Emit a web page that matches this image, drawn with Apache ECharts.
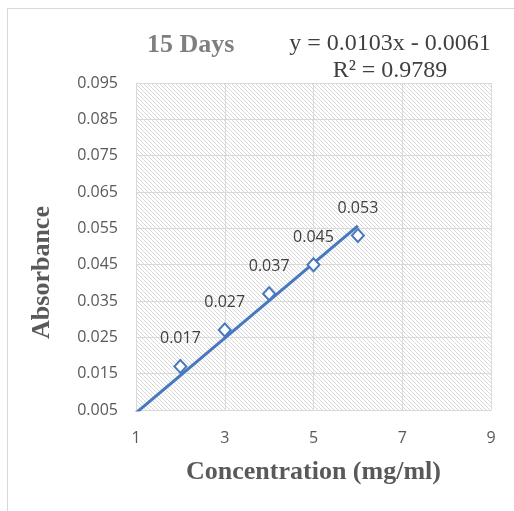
<!DOCTYPE html>
<html>
<head>
<meta charset="utf-8">
<style>
  html, body { margin: 0; padding: 0; background: #ffffff; }
  #chart { width: 514px; height: 511px; }
</style>
<script src="https://cdn.jsdelivr.net/npm/echarts@6/dist/echarts.min.js"></script>
</head>
<body>
<div id="chart"></div>
<script>
// ---- data ----
const concentration = [2, 3, 4, 5, 6];
const absorbance = [0.017, 0.027, 0.037, 0.045, 0.053];
const pointLabels = ['0.017', '0.027', '0.037', '0.045', '0.053'];
const trendX = [1, 6];
const trendY = [0.0042, 0.0557];
const chartTitle = '15 Days';
const equationText = 'y = 0.0103x - 0.0061';
const r2Text = 'R² = 0.9789';
const xTitle = 'Concentration (mg/ml)';
const yTitle = 'Absorbance';
const xTicks = { min: 1, max: 9, interval: 2 };
const yTicks = { min: 0.005, max: 0.095, interval: 0.01 };

// hatch pattern
const pat = document.createElement('canvas');
pat.width = 4; pat.height = 4;
const pc = pat.getContext('2d');
pc.fillStyle = '#ffffff';
pc.fillRect(0, 0, 4, 4);
pc.fillStyle = '#d8d8d8';
for (let i = 0; i < 4; i++) pc.fillRect(i, i, 1, 1);

const blue = '#4677bf';
const chart = echarts.init(document.getElementById('chart'));
chart.setOption({
  animation: false,
  backgroundColor: '#ffffff',
  title: [
    {
      text: chartTitle, left: 142, top: 27,
      textStyle: { fontFamily: 'Liberation Serif', fontWeight: 'bold', fontSize: 26, color: '#7f7f7f' }
    },
    {
      text: equationText + '\n' + r2Text, left: 385, top: 25, textAlign: 'center',
      textStyle: { fontFamily: 'Liberation Serif', fontWeight: 'normal', fontSize: 24, color: '#404040', lineHeight: 27, align: 'center' }
    }
  ],
  graphic: [
    { type: 'line', shape: { x1: 7, y1: 8.5, x2: 514, y2: 8.5 }, style: { stroke: '#d9d9d9', lineWidth: 1 } },
    { type: 'line', shape: { x1: 7.5, y1: 8, x2: 7.5, y2: 511 }, style: { stroke: '#d9d9d9', lineWidth: 1 } }
  ],
  grid: {
    left: 136, right: 23, top: 83, bottom: 101,
    show: true, borderWidth: 0,
    backgroundColor: { image: pat, repeat: 'repeat' }
  },
  xAxis: {
    type: 'value', min: xTicks.min, max: xTicks.max, interval: xTicks.interval,
    name: xTitle, nameLocation: 'middle', nameGap: 49,
    nameTextStyle: { fontFamily: 'Liberation Serif', fontWeight: 'bold', fontSize: 26, color: '#595959' },
    axisLine: { show: true, lineStyle: { color: '#d9d9d9', width: 1 } },
    axisTick: { show: false },
    splitLine: { show: true, lineStyle: { color: '#d9d9d9', width: 1 } },
    axisLabel: { margin: 20, fontFamily: 'Open Sans', fontSize: 16, color: '#595959' }
  },
  yAxis: {
    type: 'value', min: yTicks.min, max: yTicks.max, interval: yTicks.interval,
    name: yTitle, nameLocation: 'middle', nameGap: 81, nameRotate: 90,
    nameTextStyle: { fontFamily: 'Liberation Serif', fontWeight: 'bold', fontSize: 26, color: '#595959',
      padding: [0, 52, 0, 0] },
    axisLine: { show: true, lineStyle: { color: '#d9d9d9', width: 1 } },
    axisTick: { show: false },
    splitLine: { show: true, lineStyle: { color: '#d9d9d9', width: 1 } },
    axisLabel: { margin: 18, fontFamily: 'Open Sans', fontSize: 16, color: '#595959',
      formatter: v => v.toFixed(3) }
  },
  series: [
    {
      type: 'line',
      data: trendX.map((x, i) => [x, trendY[i]]),
      showSymbol: false, symbol: 'none',
      lineStyle: { color: blue, width: 3 },
      clip: true, z: 2, silent: true
    },
    {
      type: 'scatter',
      data: concentration.map((x, i) => [x, absorbance[i]]),
      symbol: 'diamond', symbolSize: [12, 13],
      itemStyle: { color: '#ffffff', borderColor: blue, borderWidth: 2, opacity: 1 },
      label: {
        show: true, position: 'top', distance: 12,
        formatter: p => pointLabels[p.dataIndex],
        fontFamily: 'Open Sans', fontSize: 16, color: '#404040'
      },
      z: 3
    }
  ]
});
</script>
</body>
</html>
